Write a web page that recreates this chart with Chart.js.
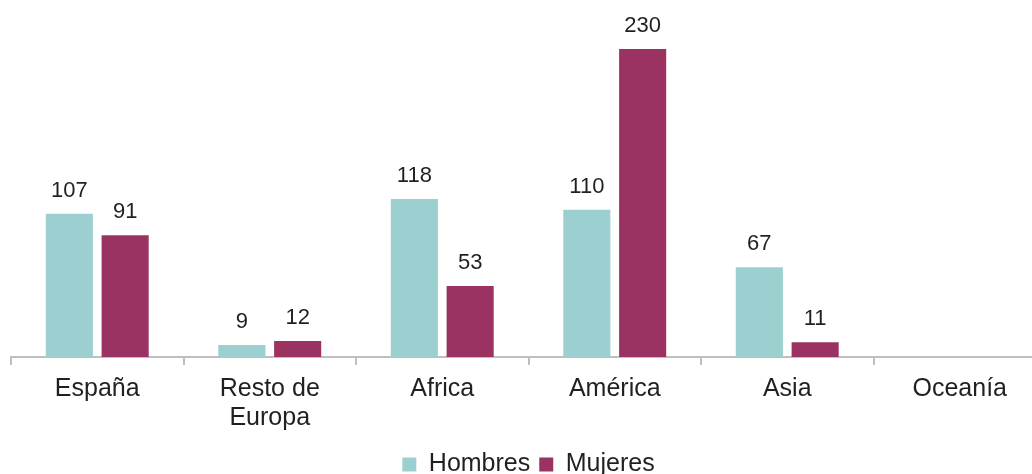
<!DOCTYPE html>
<html>
<head>
<meta charset="utf-8">
<script src="https://cdn.jsdelivr.net/npm/chart.js@4/dist/chart.umd.min.js"></script>
<style>
  html, body { margin: 0; padding: 0; background: #fff; overflow: hidden; }
  #wrap { width: 1046px; height: 487px; }
</style>
</head>
<body>
<div id="wrap"><canvas id="chart" width="1046" height="487"></canvas></div>
<script>
const regions = ['España', ['Resto de', 'Europa'], 'Africa', 'América', 'Asia', 'Oceanía'];
const hombres = [107, 9, 118, 110, 67, null];
const mujeres = [91, 12, 53, 230, 11, null];

const FONT = '"Liberation Sans", Arial, Helvetica, sans-serif';

// numbers above each bar
const barValues = {
  id: 'barValues',
  afterDatasetsDraw(chart) {
    const ctx = chart.ctx;
    ctx.save();
    ctx.font = '22px ' + FONT;
    ctx.fillStyle = '#231f20';
    ctx.textAlign = 'center';
    ctx.textBaseline = 'alphabetic';
    chart.data.datasets.forEach((ds, i) => {
      chart.getDatasetMeta(i).data.forEach((bar, j) => {
        const v = ds.data[j];
        if (v == null) return;
        ctx.fillText(String(v), bar.x, bar.y - 17);
      });
    });
    ctx.restore();
  }
};

new Chart(document.getElementById('chart'), {
  type: 'bar',
  data: {
    labels: regions,
    datasets: [
      { label: 'Hombres', data: hombres, backgroundColor: '#9ccfd0' },
      { label: 'Mujeres', data: mujeres, backgroundColor: '#9b3362' }
    ]
  },
  options: {
    responsive: false,
    animation: false,
    categoryPercentage: 0.647,
    barPercentage: 0.844,
    layout: { padding: { left: 11, top: 49, right: 0, bottom: 0 } },
    scales: {
      x: {
        grid: { drawOnChartArea: false, drawTicks: true, tickLength: 8, color: '#bfbfbf', lineWidth: 2 },
        border: { color: '#bfbfbf', width: 2 },
        ticks: { font: { family: FONT, size: 25, lineHeight: 1.16 }, color: '#231f20', padding: 10, maxRotation: 0, autoSkip: false }
      },
      y: { display: false, min: 0, max: 230 }
    },
    plugins: {
      tooltip: { enabled: false },
      legend: {
        position: 'bottom',
        labels: { font: { family: FONT, size: 25 }, color: '#231f20', boxWidth: 14, boxHeight: 14, padding: 9 }
      }
    }
  },
  plugins: [barValues]
});
</script>
</body>
</html>
